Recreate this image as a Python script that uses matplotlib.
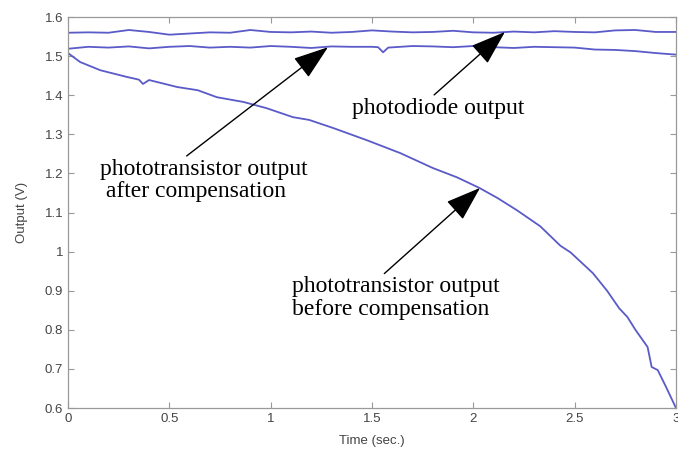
import matplotlib
matplotlib.use('Agg')
import matplotlib.pyplot as plt

# photodiode output (top trace)
t_pd = [0.0, 0.1, 0.2, 0.3, 0.4, 0.5, 0.6, 0.7, 0.8, 0.9, 1.0, 1.1, 1.2, 1.3, 1.4, 1.5,
        1.6, 1.7, 1.8, 1.9, 2.0, 2.1, 2.2, 2.3, 2.4, 2.5, 2.6, 2.7, 2.8, 2.9, 3.0]
v_pd = [1.560, 1.561, 1.560, 1.567, 1.562, 1.555, 1.558, 1.561, 1.560, 1.567, 1.562,
        1.561, 1.563, 1.560, 1.562, 1.566, 1.563, 1.561, 1.562, 1.565, 1.561, 1.560,
        1.563, 1.561, 1.564, 1.562, 1.561, 1.566, 1.567, 1.562, 1.562]

# phototransistor after compensation (middle trace)
t_comp = [0.0, 0.1, 0.2, 0.3, 0.4, 0.5, 0.6, 0.7, 0.8, 0.9, 1.0, 1.1, 1.2, 1.3, 1.4, 1.5,
          1.53, 1.555, 1.58, 1.7, 1.8, 1.9, 2.0, 2.1, 2.2, 2.3, 2.4, 2.5, 2.6, 2.7, 2.8, 2.9, 3.0]
v_comp = [1.519, 1.524, 1.522, 1.525, 1.520, 1.524, 1.526, 1.522, 1.524, 1.522, 1.526,
          1.524, 1.521, 1.525, 1.524, 1.524, 1.523, 1.510, 1.522, 1.526, 1.525, 1.523,
          1.526, 1.523, 1.521, 1.524, 1.523, 1.522, 1.517, 1.516, 1.513, 1.508, 1.504]

# phototransistor before compensation (falling trace)
t_raw = [0.0, 0.06, 0.16, 0.29, 0.35, 0.37, 0.40, 0.54, 0.64, 0.735, 0.865, 0.98, 1.11,
         1.19, 1.31, 1.475, 1.64, 1.80, 1.92, 2.03, 2.12, 2.215, 2.33, 2.43, 2.48, 2.59,
         2.66, 2.72, 2.76, 2.80, 2.86, 2.88, 2.91, 2.95, 3.0]
v_raw = [1.508, 1.485, 1.464, 1.447, 1.440, 1.429, 1.439, 1.421, 1.413, 1.395, 1.383,
         1.367, 1.344, 1.337, 1.316, 1.285, 1.252, 1.214, 1.190, 1.163, 1.137, 1.106,
         1.065, 1.015, 0.998, 0.945, 0.900, 0.855, 0.833, 0.800, 0.756, 0.705, 0.697,
         0.655, 0.600]

x_ticks = [0, 0.5, 1, 1.5, 2, 2.5, 3]
x_labels = ['0', '0.5', '1', '1.5', '2', '2.5', '3']
y_ticks = [0.6, 0.7, 0.8, 0.9, 1.0, 1.1, 1.2, 1.3, 1.4, 1.5, 1.6]
y_labels = ['0.6', '0.7', '0.8', '0.9', '1', '1.1', '1.2', '1.3', '1.4', '1.5', '1.6']

line_col = '#5a5ac8'
fig = plt.figure(figsize=(6.78, 4.5), dpi=100)
ax = fig.add_axes([0.1003, 0.0933, 0.8967, 0.8687])

ax.plot(t_pd, v_pd, color=line_col, lw=1.3)
ax.plot(t_comp, v_comp, color=line_col, lw=1.3)
ax.plot(t_raw, v_raw, color=line_col, lw=1.3)

ax.set_xlim(0, 3)
ax.set_ylim(0.6, 1.6)
ax.set_xticks(x_ticks)
ax.set_xticklabels(x_labels)
ax.set_yticks(y_ticks)
ax.set_yticklabels(y_labels)
ax.tick_params(direction='in', length=4, width=0.8, color='#999999', labelcolor='#444444',
               labelsize=9.5, top=True, right=True)
for lab in ax.get_xticklabels() + ax.get_yticklabels():
    lab.set_family('Liberation Sans')
for s in ax.spines.values():
    s.set_color('#999999')
    s.set_linewidth(0.9)

ax.set_xlabel('Time (sec.)', fontsize=9.5, color='#444444', family='Liberation Sans', labelpad=7)
ax.set_ylabel('Output (V)', fontsize=9.5, color='#444444', family='Liberation Sans', labelpad=12)

arr = dict(arrowstyle='-|>,head_length=1.3,head_width=0.45', color='black', lw=1.0,
           shrinkA=0, shrinkB=0)
ax.annotate('photodiode output', xy=(2.156, 1.562), xytext=(1.40, 1.367),
            fontsize=17, family='Liberation Serif', va='center', ha='left',
            arrowprops=dict(arr, relpos=(0.46, 1.0)))
ax.annotate('phototransistor output\n after compensation', xy=(1.283, 1.523),
            xytext=(0.158, 1.183), fontsize=17, family='Liberation Serif',
            va='center', ha='left', linespacing=1.05,
            arrowprops=dict(arr, relpos=(0.4, 1.0)))
ax.annotate('phototransistor output\nbefore compensation', xy=(2.033, 1.163),
            xytext=(1.105, 0.881), fontsize=17, family='Liberation Serif',
            va='center', ha='left', linespacing=1.1,
            arrowprops=dict(arr, relpos=(0.43, 1.0)))

plt.savefig('out.png', dpi=100)
